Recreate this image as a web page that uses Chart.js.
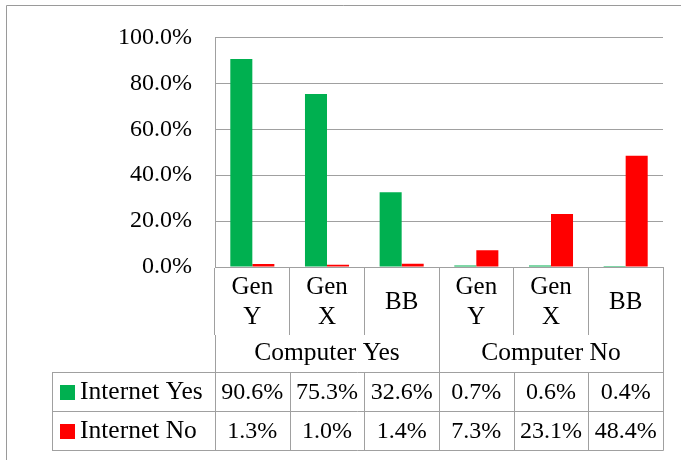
<!DOCTYPE html>
<html>
<head>
<meta charset="utf-8">
<script src="https://cdn.jsdelivr.net/npm/chart.js@4/dist/chart.umd.min.js"></script>
<style>
  html, body { margin: 0; padding: 0; background: #fff; }
  #wrap { position: relative; width: 681px; height: 460px; }
</style>
</head>
<body>
<div id="wrap"><canvas id="chart"></canvas></div>
<script>
// data
const categories = [["Gen", "Y"], ["Gen", "X"], ["BB"], ["Gen", "Y"], ["Gen", "X"], ["BB"]];
const groups = ["Computer Yes", "Computer No"];
const internetYes = [90.6, 75.3, 32.6, 0.7, 0.6, 0.4];
const internetNo = [1.3, 1.0, 1.4, 7.3, 23.1, 48.4];
const seriesNames = ["Internet Yes", "Internet No"];
const seriesColors = ["#00B050", "#FF0000"];

const FONT = "'Liberation Serif', 'Times New Roman', serif";
const LINE = "#a0a0a0";
const pct = v => v.toFixed(1) + "%";

// frame + data table under the axes
const tablePlugin = {
  id: "dataTable",
  beforeDraw(chart) {
    const ctx = chart.ctx;
    ctx.save();
    ctx.strokeStyle = "#9a9a9a";
    ctx.lineWidth = 1;
    ctx.beginPath();
    ctx.moveTo(6.5, 460);
    ctx.lineTo(6.5, 5.5);
    ctx.lineTo(681, 5.5);
    ctx.stroke();
    ctx.restore();
  },
  afterDraw(chart) {
    const ctx = chart.ctx;
    const x = chart.scales.x;
    const top = chart.scales.grp.bottom;
    const rowH = 39;
    const left = 52;
    const rows = [internetYes, internetNo];
    const edges = [];
    for (let i = 0; i <= categories.length; i++) edges.push(x.getPixelForValue(i - 0.5));

    ctx.save();
    ctx.strokeStyle = LINE;
    ctx.lineWidth = 1;
    ctx.beginPath();
    for (let r = 0; r <= rows.length; r++) {
      const y = Math.round(top + r * rowH) + 0.5;
      ctx.moveTo(left, y);
      ctx.lineTo(edges[edges.length - 1] + 0.5, y);
    }
    [left].concat(edges).forEach(px => {
      const xx = Math.round(px) + 0.5;
      ctx.moveTo(xx, top);
      ctx.lineTo(xx, top + rows.length * rowH + 0.5);
    });
    ctx.stroke();

    ctx.fillStyle = "#000";
    ctx.textBaseline = "middle";
    rows.forEach((vals, r) => {
      const cy = top + r * rowH + rowH / 2 + 1;
      ctx.fillStyle = seriesColors[r];
      ctx.fillRect(60, Math.round(cy - 8), 15, 15);
      ctx.fillStyle = "#000";
      ctx.textAlign = "left";
      ctx.font = "25.5px " + FONT;
      ctx.fillText(seriesNames[r], 80, cy);
      ctx.textAlign = "center";
      ctx.font = "24px " + FONT;
      vals.forEach((v, i) => {
        ctx.fillText(pct(v), (edges[i] + edges[i + 1]) / 2, cy);
      });
    });
    ctx.restore();
  }
};

new Chart(document.getElementById("chart"), {
  type: "bar",
  data: {
    labels: categories,
    datasets: [
      { label: seriesNames[0], data: internetYes, backgroundColor: seriesColors[0] },
      { label: seriesNames[1], data: internetNo, backgroundColor: seriesColors[1] }
    ]
  },
  options: {
    responsive: true,
    maintainAspectRatio: false,
    animation: false,
    layout: { padding: { top: 34, right: 18, bottom: 88, left: 0 } },
    categoryPercentage: 0.59,
    barPercentage: 1,
    plugins: { legend: { display: false }, tooltip: { enabled: false } },
    scales: {
      y: {
        min: 0,
        max: 100,
        afterFit: s => { s.width = 215; },
        ticks: {
          stepSize: 20,
          padding: 23,
          color: "#000",
          font: { family: FONT, size: 24 },
          callback: v => pct(v)
        },
        grid: { color: LINE, drawTicks: false },
        border: { color: LINE }
      },
      x: {
        weight: 0,
        afterFit: s => { s.height = 68; },
        ticks: {
          padding: -48,
          crossAlign: "center",
          maxRotation: 0,
          autoSkip: false,
          color: "#000",
          font: { family: FONT, size: 25, lineHeight: 1.2 }
        },
        grid: { drawOnChartArea: false, offset: true, tickLength: 68, color: LINE },
        border: { color: LINE }
      },
      grp: {
        type: "category",
        position: "bottom",
        labels: groups,
        offset: true,
        weight: 1,
        afterFit: s => { s.height = 37; },
        ticks: {
          padding: -34,
          maxRotation: 0,
          color: "#000",
          font: { family: FONT, size: 25.5, lineHeight: 1.2 }
        },
        grid: { drawOnChartArea: false, offset: true, tickLength: 37, color: LINE },
        border: { display: false }
      }
    }
  },
  plugins: [tablePlugin]
});
</script>
</body>
</html>
